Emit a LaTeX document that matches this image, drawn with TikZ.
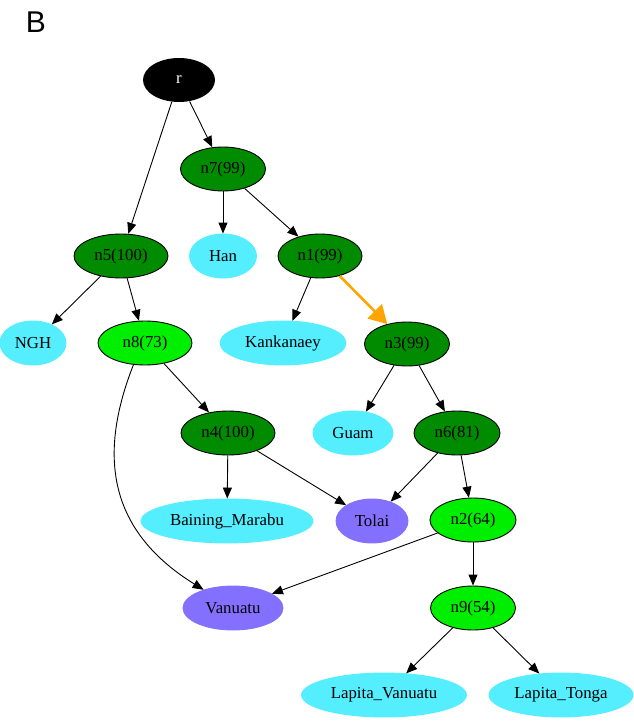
\documentclass[tikz,border=0pt]{standalone}
\usepackage{fontspec}
\setmainfont{Liberation Serif}
\newfontfamily\panelfont{Liberation Sans}
\usetikzlibrary{shapes.geometric,arrows.meta}

\definecolor{cladedark}{HTML}{008B00}
\definecolor{cladelight}{HTML}{00EE00}
\definecolor{leafcyan}{HTML}{55EEFF}
\definecolor{leafpurple}{HTML}{8470FF}
\definecolor{edgeorange}{HTML}{FFA500}

\tikzset{
  tnode/.style={ellipse, minimum height=44pt, inner sep=0pt, minimum width=#1},
  darkclade/.style={tnode=#1, draw=black, fill=cladedark},
  lightclade/.style={tnode=#1, draw=black, fill=cladelight},
  leaf/.style={tnode=#1, draw=leafcyan, fill=leafcyan},
  mixleaf/.style={tnode=#1, draw=leafpurple, fill=leafpurple},
  rootnode/.style={tnode=#1, fill=black, text=white},
  hot/.style={draw=edgeorange, line width=2.6pt, -{Triangle[length=18pt,width=20pt]}}
}

\begin{document}
\begin{tikzpicture}[x=1pt,y=-1pt,>={Triangle[length=11pt,width=9pt]},line width=0.9pt,
  every node/.style={font=\fontsize{16.8}{18}\selectfont}]
\useasboundingbox (0,0) rectangle (633,722);

\node[font=\panelfont\fontsize{30}{32}\selectfont] (panel) at (36,22) {B};

\node[rootnode=72pt]	(r)	at (179,80) {r};
\node[darkclade=85pt]	(n7) at (223,169) {n7(99)};
\node[darkclade=94pt]	(n5) at (121,256) {n5(100)};
\node[leaf=67pt]	(han) at (223,256) {Han};
\node[darkclade=84pt]	(n1) at (320,256) {n1(99)};
\node[leaf=66pt]	(ngh) at (33,343) {NGH};
\node[lightclade=94pt]	(n8) at (145,343) {n8(73)};
\node[leaf=126pt]	(kank) at (283,343) {Kankanaey};
\node[darkclade=85pt]	(n3) at (407,344) {n3(99)};
\node[darkclade=94pt]	(n4) at (228,433) {n4(100)};
\node[leaf=80pt]	(guam) at (353,433) {Guam};
\node[darkclade=86pt]	(n6) at (457,433) {n6(81)};
\node[leaf=172pt]	(bain) at (227,521) {Baining\_Marabu};
\node[mixleaf=72pt]	(tolai) at (372,521) {Tolai};
\node[lightclade=86pt]	(n2) at (473,520) {n2(64)};
\node[mixleaf=100pt]	(vanu) at (233,608) {Vanuatu};
\node[lightclade=85pt]	(n9) at (473,608) {n9(54)};
\node[leaf=165pt]	(lapv) at (384,695) {Lapita\_Vanuatu};
\node[leaf=144pt]	(lapt) at (561,695) {Lapita\_Tonga};

% tree edges
\path[->]
(r) edge (n5)
    edge (n7)
(n7) edge (han)
     edge (n1)
(n5) edge (ngh)
     edge (n8)
(n1) edge (kank)
     edge [hot] (n3)
(n8) edge (n4)
(n3) edge (guam)
     edge (n6)
(n4) edge (bain)
     edge (tolai)
(n6) edge (tolai)
     edge (n2)
(n2) edge (vanu)
     edge (n9)
(n9) edge (lapv)
     edge (lapt)
;
% long edge round the left side
\draw[->] (n8.242) .. controls (100,450) and (104,528) .. (vanu);
\end{tikzpicture}
\end{document}
